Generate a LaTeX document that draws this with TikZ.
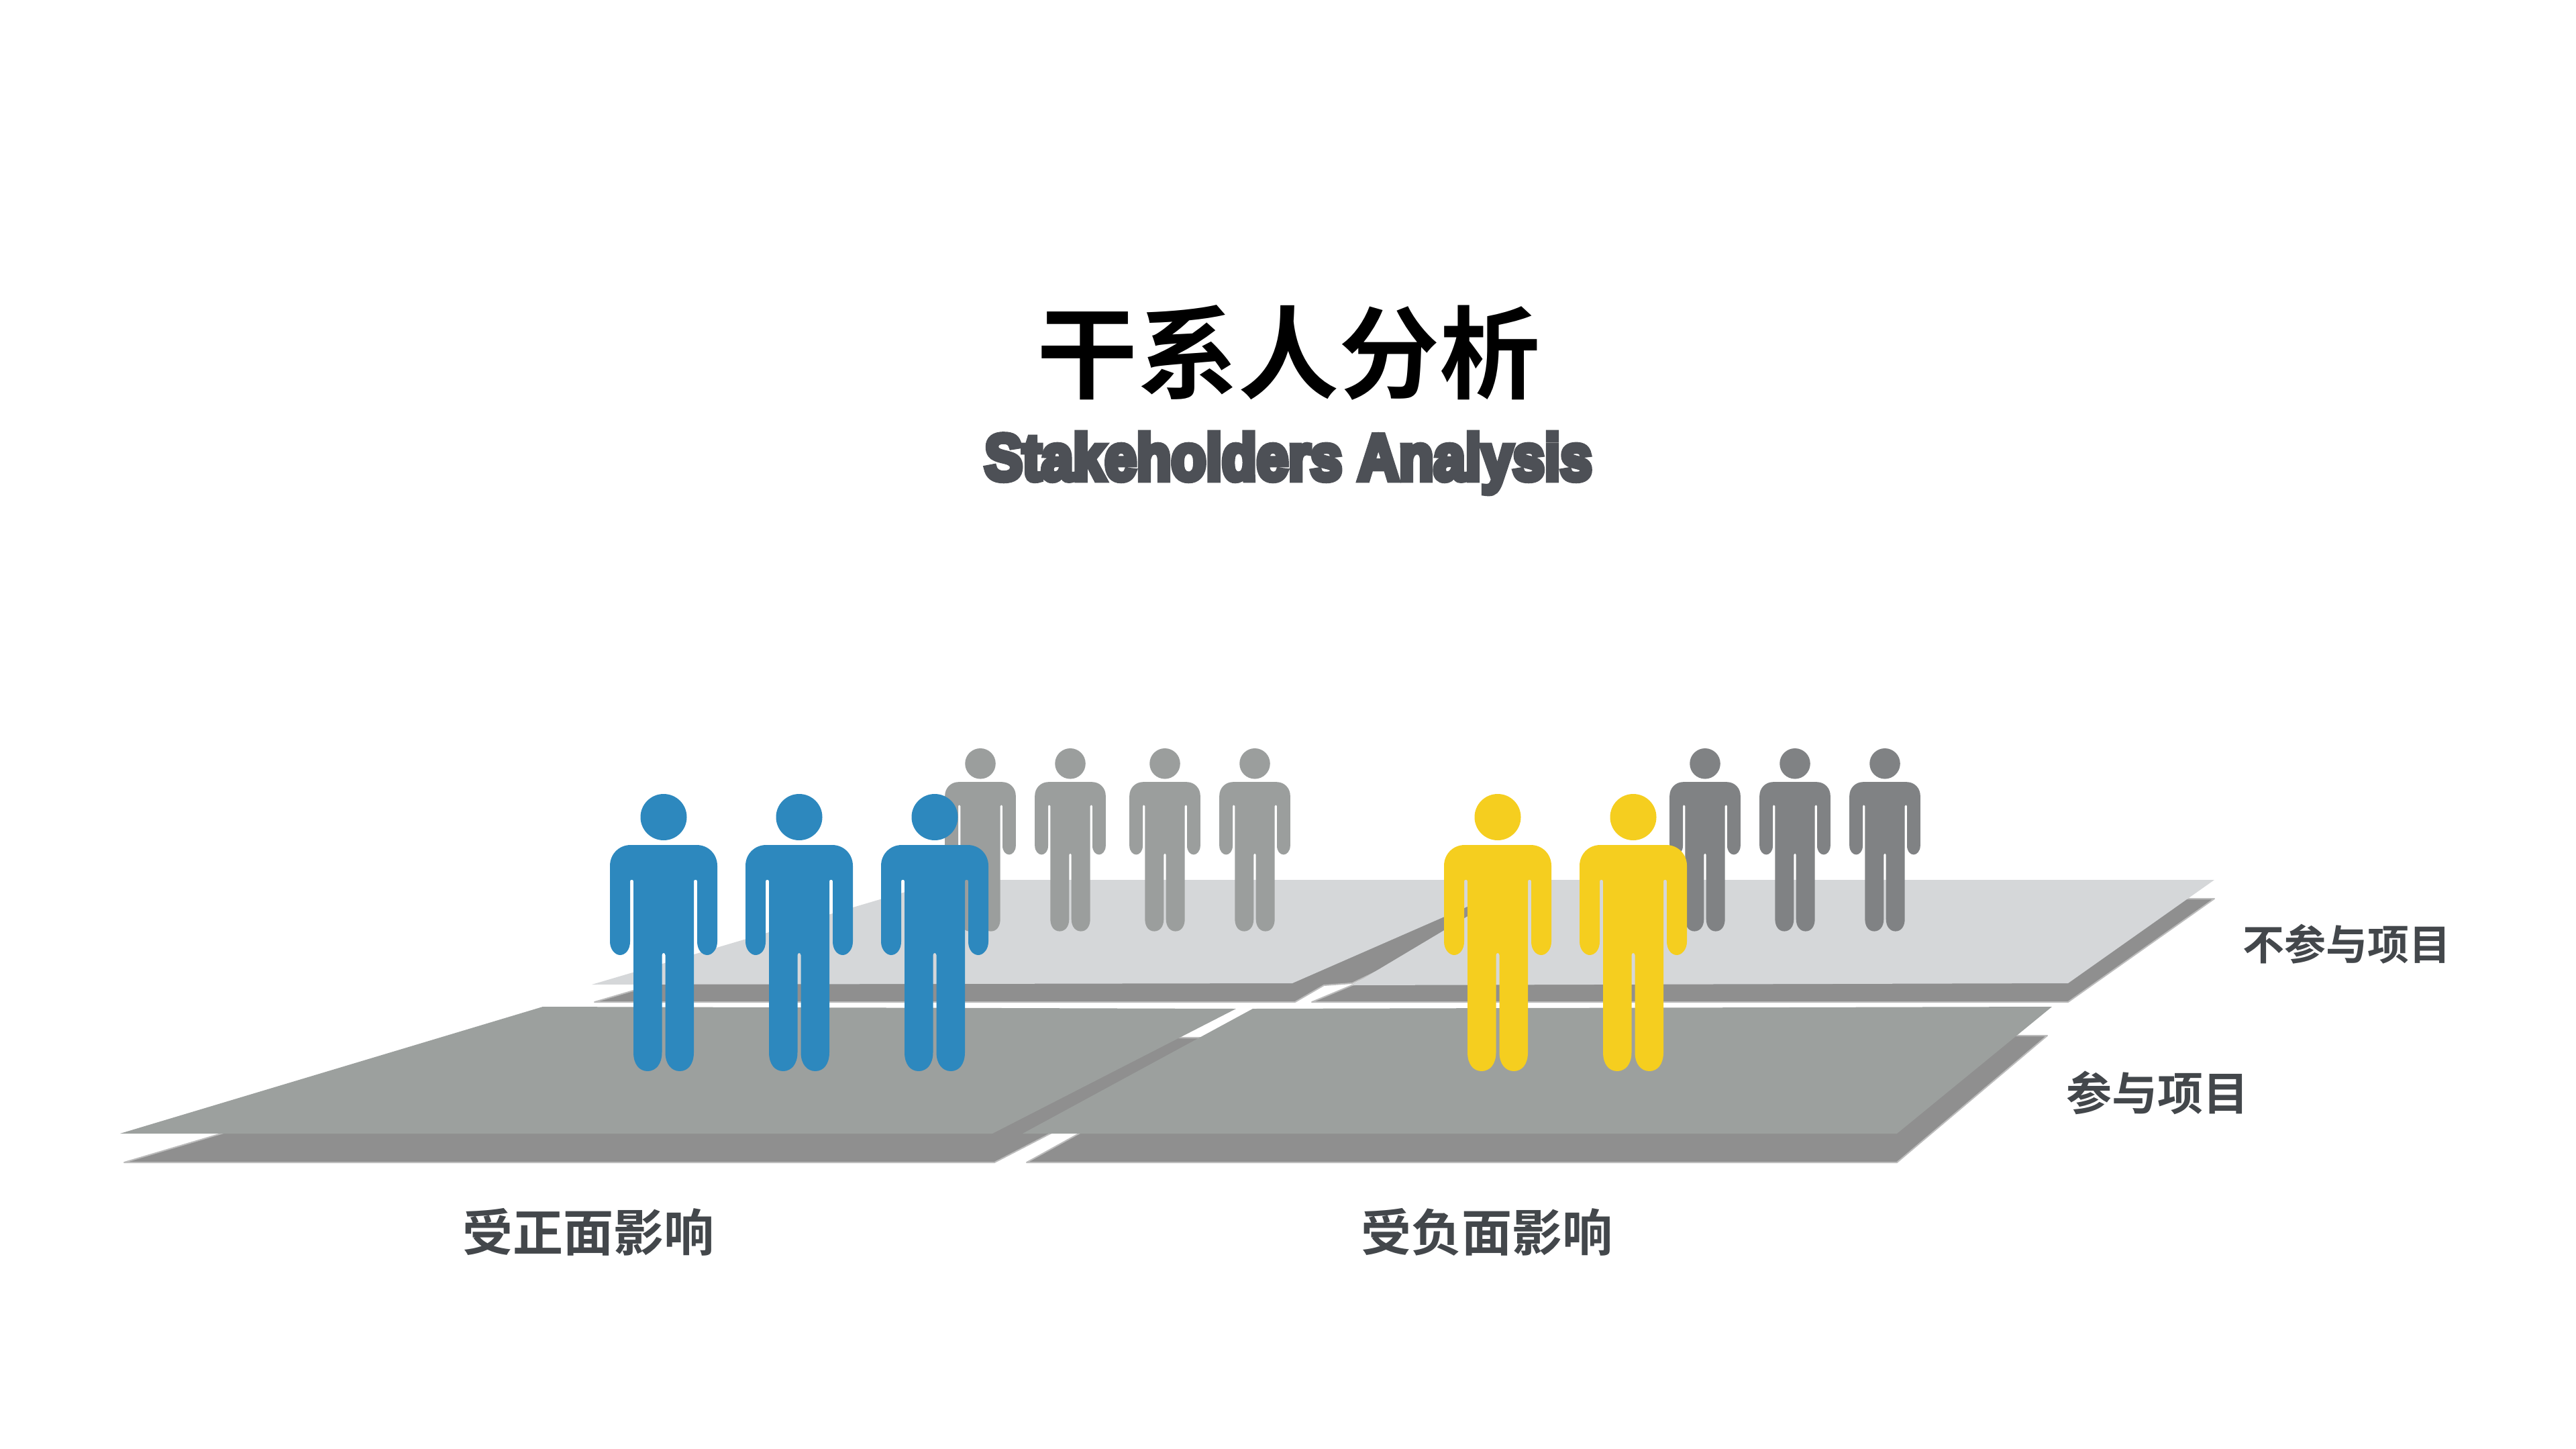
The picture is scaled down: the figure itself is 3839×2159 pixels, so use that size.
\documentclass[tikz,border=0pt]{standalone}
\usepackage{fontspec}
\usepackage{graphicx}
\newfontfamily\cjkb{Noto Sans CJK SC Bold}[BoldFont={}]
\newfontfamily\enb{Liberation Sans Bold}[FakeBold=9]
\definecolor{cblue}{HTML}{2D88BE}
\definecolor{cyellow}{HTML}{F5CE1F}
\definecolor{cgrayA}{HTML}{9B9E9D}
\definecolor{cgrayB}{HTML}{808284}
\definecolor{plateF}{HTML}{9CA09E}
\definecolor{plateB}{HTML}{D5D7D9}
\definecolor{shade}{HTML}{8F8F8F}
\definecolor{labelc}{HTML}{43474B}
\definecolor{subc}{HTML}{4D5056}
\tikzset{
  shadowplate/.style={fill=shade,draw=shade!60!white,line width=2pt,line join=round},
  plateFront/.style={fill=plateF},
  plateBack/.style={fill=plateB},
  sidelabel/.style={text=labelc,inner sep=0pt,font=\cjkb\fontsize{68}{68}\selectfont},
  bottomlabel/.style={text=labelc,inner sep=0pt,font=\cjkb\fontsize{75}{75}\selectfont}
}
% #1 centre x, #2 head top y, #3 scale, #4 colour
\newcommand{\figperson}[4]{%
  \begin{scope}[shift={(#1,#2)},scale=#3]
    \fill[#4] (0,34.5) ellipse [x radius=34.5,y radius=34.5];
    \fill[#4] (-49,76) -- (49,76)
      .. controls (67,76) and (80,90) .. (80,107) -- (80,220)
      .. controls (80,232) and (72,240) .. (65,240)
      .. controls (57,240) and (50,232) .. (50,220) -- (50,130)
      .. controls (50,127) and (45,127) .. (45,130) -- (45,385)
      .. controls (45,403) and (36,413) .. (24,413)
      .. controls (12,413) and (2.5,403) .. (2.5,385) -- (2.5,240)
      .. controls (2.5,236) and (-2.5,236) .. (-2.5,240) -- (-2.5,385)
      .. controls (-2.5,403) and (-12,413) .. (-24,413)
      .. controls (-36,413) and (-45,403) .. (-45,385) -- (-45,130)
      .. controls (-45,127) and (-50,127) .. (-50,130) -- (-50,220)
      .. controls (-50,232) and (-57,240) .. (-65,240)
      .. controls (-72,240) and (-80,232) .. (-80,220) -- (-80,107)
      .. controls (-80,90) and (-67,76) .. (-49,76) -- cycle;
  \end{scope}}
\begin{document}
\begin{tikzpicture}[x=1pt,y=-1pt]
\useasboundingbox (0,0) rectangle (3839,2159);
\fill[white] (0,0) rectangle (3839,2159);
% back row
\fill[shadowplate] (1410,1339) -- (2278,1339) -- (2015,1465) -- (1973,1468) -- (1930,1493) -- (886,1493) -- cycle;
\fill[shadowplate] (2280,1339) -- (3300,1339) -- (3082,1493) -- (1955,1493) -- (2015,1468) -- cycle;
\fill[plateBack] (1410,1311) -- (2278,1311) -- (1926,1465) -- (882,1467) -- cycle;
\fill[plateBack] (2278,1311) -- (3300,1311) -- (3082,1465) -- (2015,1468) -- cycle;
% grey people
\figperson{1461}{1115}{0.66}{cgrayA}
\figperson{1595}{1115}{0.66}{cgrayA}
\figperson{1736}{1115}{0.66}{cgrayA}
\figperson{1870}{1115}{0.66}{cgrayA}
\figperson{2541}{1115}{0.66}{cgrayB}
\figperson{2675}{1115}{0.66}{cgrayB}
\figperson{2809}{1115}{0.66}{cgrayB}
% front row
\fill[shadowplate] (812,1546) -- (1842,1546) -- (1482,1732) -- (185,1732) -- cycle;
\fill[shadowplate] (1867,1546) -- (3051,1543) -- (2827,1732) -- (1530,1732) -- cycle;
\fill[plateFront] (809,1500) -- (1842,1503) -- (1479,1689) -- (179,1689) -- cycle;
\fill[plateFront] (1867,1503) -- (3058,1500) -- (2827,1689) -- (1524,1689) -- cycle;
% front people
\figperson{989}{1183}{1}{cblue}
\figperson{1191}{1183}{1}{cblue}
\figperson{1393}{1183}{1}{cblue}
\figperson{2232}{1183}{1}{cyellow}
\figperson{2434}{1183}{1}{cyellow}
% texts
\node[inner sep=0pt,text=black,font=\cjkb\fontsize{150}{150}\selectfont] (title) at (1920,525) {干系人分析};
\node[inner sep=0pt,text=subc] (subtitle) at (1920,690) {\resizebox*{905pt}{90pt}{\enb Stakeholders Analysis}};
\node[sidelabel,font=\cjkb\fontsize{62}{62}\selectfont] (notin) at (3497,1407) {不参与项目};
\node[sidelabel] (in) at (3215,1628) {参与项目};
\node[bottomlabel] (pos) at (877,1836) {受正面影响};
\node[bottomlabel] (neg) at (2216,1836) {受负面影响};
\end{tikzpicture}
\end{document}
